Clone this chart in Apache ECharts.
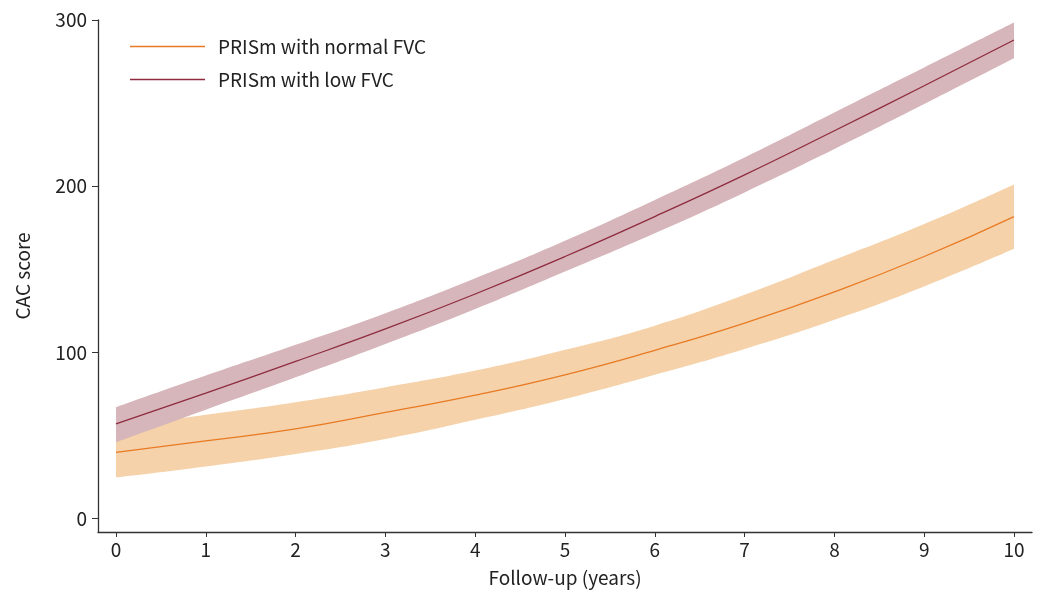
<!DOCTYPE html>
<html>
<head>
<meta charset="utf-8">
<title>CAC score over follow-up</title>
<script src="https://cdn.jsdelivr.net/npm/echarts@6/dist/echarts.min.js"></script>
<style>
  html, body { margin: 0; padding: 0; background: #fff; }
  #chart { width: 1041px; height: 592px; }
</style>
</head>
<body>
<div id="chart"></div>
<script>
// follow-up years
const years = [0, 1, 2, 3, 4, 5, 6, 7, 8, 9, 10]

// PRISm with normal FVC: estimate and confidence band
const normalFvc = [40.4, 47.3, 54.5, 64.4, 74.8, 87, 101.7, 118, 136.8, 158, 182]
const normalFvcLower = [25.4, 32, 39.5, 48.5, 60, 72.5, 87, 102.5, 120, 140, 162.6]
const normalFvcUpper = [55.7, 63, 70.5, 79.5, 89.5, 102, 116.5, 135, 156, 177.5, 201.3]

// PRISm with low FVC: estimate and confidence band
const lowFvc = [57.5, 76, 95, 114.5, 135.5, 158, 182, 207, 233.5, 260.5, 288]
const lowFvcLower = [46.5, 66, 85.5, 105.5, 126.5, 149, 172, 196.5, 222.5, 249.5, 277]
const lowFvcUpper = [67.5, 86.5, 105, 124, 145, 167.5, 192, 217.5, 244.5, 271.5, 298.5]

// tick labels
const xTicks = [0, 1, 2, 3, 4, 5, 6, 7, 8, 9, 10]
const yTicks = [0, 100, 200, 300]

const FONT = '"Noto Sans CJK SC", "Noto Sans", sans-serif'
const FONT_SIZE = 19
const AXIS_COLOR = '#333'
const TEXT_COLOR = '#222'
const Y_MIN = -8
const Y_MAX = 300

const diffs = (hi, lo) => hi.map((v, i) => v - lo[i])

// 置信带：透明下边界 + 堆叠差值（画在隐藏的类目轴上）
const band = (stack, lower, upper, color) => [
  {
    type: 'line',
    xAxisIndex: 1,
    yAxisIndex: 1,
    stack: stack,
    data: lower,
    smooth: true,
    symbol: 'none',
    lineStyle: { opacity: 0 },
    silent: true,
  },
  {
    type: 'line',
    xAxisIndex: 1,
    yAxisIndex: 1,
    stack: stack,
    data: diffs(upper, lower),
    smooth: true,
    symbol: 'none',
    lineStyle: { opacity: 0 },
    areaStyle: { color: color, opacity: 1 },
    silent: true,
  },
]

const estimate = (name, data, color) => ({
  name: name,
  type: 'line',
  xAxisIndex: 1,
  yAxisIndex: 1,
  data: data,
  smooth: true,
  symbol: 'none',
  itemStyle: { color: color },
  lineStyle: { color: color, width: 1.3 },
  silent: true,
})

const chart = echarts.init(document.getElementById('chart'))

const option = {
  animation: false,
  textStyle: { fontFamily: FONT },
  grid: [
    // visible axes
    { left: 98, right: 9, top: 20, bottom: 59 },
    // data area: year 0 .. year 10
    { left: 116, right: 27, top: 20, bottom: 59 },
  ],
  legend: {
    data: [
      { name: 'PRISm with normal FVC', icon: 'rect' },
      { name: 'PRISm with low FVC', icon: 'rect' },
    ],
    orient: 'vertical',
    left: 125,
    top: 32,
    itemWidth: 75,
    itemHeight: 1.3,
    itemGap: 14,
    textStyle: { fontSize: FONT_SIZE, color: TEXT_COLOR, fontFamily: FONT, padding: [0, 0, 0, 8] },
  },
  xAxis: [
    {
      type: 'value',
      gridIndex: 0,
      min: -0.2,
      max: 10.2,
      name: 'Follow-up (years)',
      nameLocation: 'middle',
      nameGap: 36,
      nameTextStyle: { fontSize: FONT_SIZE, color: TEXT_COLOR },
      splitLine: { show: false },
      axisLine: { onZero: false, lineStyle: { color: AXIS_COLOR, width: 1.3 } },
      axisTick: { customValues: xTicks, length: 5, lineStyle: { color: AXIS_COLOR } },
      axisLabel: { customValues: xTicks, fontSize: FONT_SIZE, color: TEXT_COLOR, margin: 8 },
    },
    {
      type: 'category',
      gridIndex: 1,
      data: years,
      boundaryGap: false,
      show: false,
    },
  ],
  yAxis: [
    {
      type: 'value',
      gridIndex: 0,
      min: Y_MIN,
      max: Y_MAX,
      name: 'CAC score',
      nameLocation: 'middle',
      nameGap: 66,
      nameRotate: 90,
      nameTextStyle: { fontSize: FONT_SIZE, color: TEXT_COLOR },
      splitLine: { show: false },
      axisLine: { show: true, onZero: false, lineStyle: { color: AXIS_COLOR, width: 1.3 } },
      axisTick: { show: true, customValues: yTicks, length: 6, lineStyle: { color: AXIS_COLOR } },
      axisLabel: { customValues: yTicks, fontSize: FONT_SIZE, color: TEXT_COLOR, margin: 11 },
    },
    {
      type: 'value',
      gridIndex: 1,
      min: Y_MIN,
      max: Y_MAX,
      show: false,
    },
  ],
  series: [
    ...band('normal', normalFvcLower, normalFvcUpper, '#F5D2AA'),
    ...band('low', lowFvcLower, lowFvcUpper, '#D6B6BA'),
    estimate('PRISm with normal FVC', normalFvc, '#E87A24'),
    estimate('PRISm with low FVC', lowFvc, '#8E2B3E'),
  ],
}

chart.setOption(option)
</script>
</body>
</html>
